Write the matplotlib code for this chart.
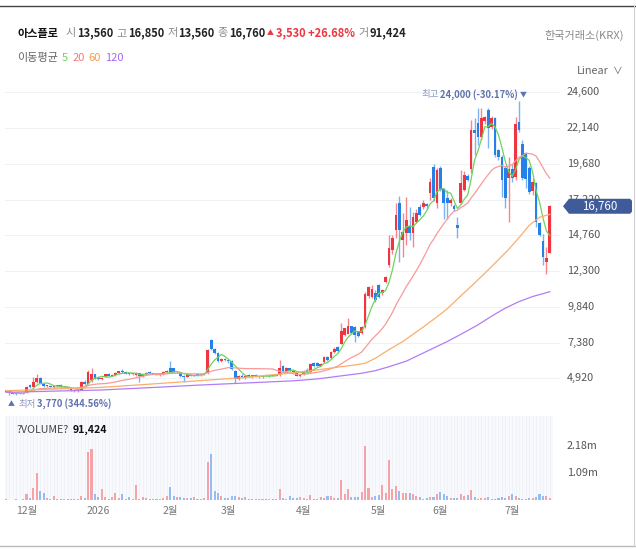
import matplotlib
matplotlib.use("Agg")
import matplotlib.pyplot as plt
import numpy as np
import pandas as pd
from matplotlib.patches import Polygon

plt.rcParams['font.family'] = ['Noto Sans CJK KR', 'DejaVu Sans']

# ---- data (daily candles, KRW) ----
opens = [4000, 4050, 3890, 3860, 3900, 3870, 3920, 4450, 4330, 4650,
         4950, 4560, 4380, 4420, 4330, 4380, 4470, 4300, 4320, 4200,
         4100, 4020, 4150, 4680, 4550, 4800, 5200, 4950, 4850, 5000,
         5200, 5100, 5150, 5300, 5450, 5350, 5250, 5200, 5150, 5280,
         5050, 5200, 5350, 5280, 5250, 5150, 5200, 5380, 5650, 5600,
         5350, 5350, 5100, 5000, 5150, 5100, 5180, 5150, 5200, 5300,
         7550, 6950, 6650, 6100, 6250, 6150, 6100, 5450, 4850, 5100,
         5000, 5100, 5050, 5120, 5050, 5000, 5100, 5080, 5120, 5100,
         5150, 5800, 5450, 5600, 5420, 5300, 5100, 5200, 5500, 5350,
         5950, 6000, 5800, 6050, 6400, 6300, 6700, 7100, 7300, 7900,
         8000, 8500, 8450, 8150, 8050, 8450, 10600, 10550, 10800, 11350,
         10800, 11560, 12720, 13770, 15140, 16980, 14460, 14950, 15400, 14950,
         15700, 16700, 16700, 16900, 17700, 19450, 17000, 19400, 17950, 17300,
         17000, 16800, 15450, 17000, 17900, 18850, 19300, 22000, 22500, 21500,
         22650, 23400, 22200, 22800, 20600, 20150, 19400, 18700, 19350, 18750,
         22550, 21050, 20400, 19400, 17800, 18350, 15600, 14400, 12900, 13560]
highs = [4100, 4060, 3950, 3900, 3920, 3930, 4380, 4560, 5000, 5230,
         5000, 4600, 4450, 4460, 4400, 4480, 4520, 4360, 4340, 4230,
         4150, 4180, 4720, 4800, 5500, 5640, 5250, 5050, 5000, 5250,
         5280, 5200, 5350, 5450, 5550, 5400, 5300, 5280, 5350, 5300,
         5250, 5350, 5420, 5320, 5300, 5250, 5420, 5500, 6130, 5650,
         5450, 5380, 5150, 5200, 5250, 5200, 5250, 5230, 5300, 6950,
         7650, 7000, 6700, 6300, 6350, 6250, 6150, 5500, 5150, 5200,
         5150, 5200, 5150, 5200, 5100, 5150, 5200, 5150, 5180, 5200,
         6150, 5850, 5700, 5650, 5500, 5350, 5250, 5500, 5600, 5950,
         6050, 6050, 5950, 6450, 6450, 6800, 7050, 7150, 8750, 8400,
         9080, 8550, 8500, 8200, 8550, 10850, 11300, 11350, 11000, 11400,
         11100, 11960, 14800, 14800, 16990, 17450, 16300, 17400, 16700, 16350,
         16570, 16900, 17200, 17000, 18700, 19700, 19400, 19500, 18000, 17900,
         17300, 16900, 16020, 19250, 19200, 19000, 22700, 22830, 23500, 23500,
         23000, 23500, 23000, 22900, 20700, 20300, 19500, 20150, 19700, 22900,
         24000, 21300, 20500, 19500, 18700, 18400, 15700, 14850, 13960, 16850]
lows = [3960, 3770, 3820, 3800, 3830, 3840, 3900, 4280, 4300, 4600,
        4500, 4320, 4300, 4300, 4280, 4340, 4280, 4260, 4200, 4080,
        3990, 4000, 4120, 4450, 4500, 4700, 4850, 4800, 4800, 4980,
        5050, 5050, 5100, 5250, 5300, 5200, 5150, 5150, 5100, 4700,
        5000, 5150, 5250, 5200, 5120, 5100, 5150, 5300, 5300, 5300,
        5300, 5000, 4700, 4980, 5080, 5050, 5100, 5100, 5150, 5250,
        6850, 6600, 6050, 6050, 6100, 6000, 5500, 4620, 4800, 4950,
        4900, 5000, 4950, 5000, 4950, 4950, 5050, 5000, 5050, 5050,
        5100, 5350, 5400, 5380, 5300, 5050, 5030, 5150, 5300, 5300,
        5700, 5750, 5750, 6000, 6100, 6250, 6650, 6750, 7250, 7850,
        7950, 8000, 7430, 7750, 8000, 8400, 10450, 10450, 10200, 10450,
        10650, 11450, 12580, 13500, 14580, 12900, 13270, 14100, 14460, 13960,
        15600, 16100, 16600, 16600, 17200, 17150, 16650, 17800, 15850, 15850,
        16800, 16450, 14560, 16900, 17800, 18500, 19050, 20300, 21000, 21300,
        22400, 20800, 22100, 20150, 19950, 17400, 16650, 15670, 18400, 18600,
        21900, 18600, 18050, 17600, 17500, 15300, 14700, 12730, 12110, 13560]
closes = [4080, 3880, 3850, 3840, 3860, 3900, 4330, 4330, 4700, 4950,
          4560, 4380, 4420, 4330, 4360, 4450, 4300, 4320, 4220, 4100,
          4020, 4150, 4650, 4500, 5350, 5250, 4900, 4850, 4950, 5200,
          5100, 5150, 5300, 5400, 5350, 5250, 5200, 5230, 5300, 5050,
          5200, 5300, 5280, 5250, 5150, 5200, 5380, 5450, 5380, 5350,
          5400, 5050, 5000, 5150, 5100, 5180, 5150, 5200, 5250, 6900,
          6950, 6650, 6100, 6250, 6150, 6100, 5550, 4850, 5100, 5000,
          5100, 5050, 5120, 5050, 5000, 5100, 5080, 5120, 5100, 5150,
          5650, 5450, 5600, 5420, 5350, 5100, 5200, 5450, 5350, 5900,
          5750, 5800, 5900, 6400, 6150, 6750, 6950, 6800, 8150, 8350,
          8500, 8050, 7900, 7800, 8450, 10750, 11200, 11100, 10300, 10550,
          11000, 11900, 13900, 14600, 16180, 15140, 14990, 15800, 14900, 16000,
          16300, 16180, 16980, 16750, 18400, 17350, 19250, 17900, 17000, 17000,
          17200, 16550, 15260, 18350, 18900, 18600, 22000, 21800, 21550, 22850,
          22900, 22150, 22850, 20300, 20150, 18550, 17350, 19350, 18700, 22450,
          22000, 18700, 18650, 17750, 18400, 15650, 14800, 13270, 13230, 16760]
volumes_m = [0.03, 0.02, 0.02, 0.03, 0.02, 0.03, 0.23, 0.09, 0.50, 1.10,
             0.35, 0.28, 0.10, 0.05, 0.16, 0.06, 0.04, 0.03, 0.03, 0.04,
             0.05, 0.06, 0.16, 0.08, 1.94, 2.05, 0.23, 0.11, 0.44, 0.12,
             0.05, 0.11, 0.30, 0.08, 0.23, 0.05, 0.12, 0.05, 0.61, 0.05,
             0.11, 0.09, 0.04, 0.04, 0.04, 0.05, 0.09, 0.16, 0.52, 0.15,
             0.13, 0.12, 0.08, 0.08, 0.07, 0.11, 0.05, 0.05, 0.09, 1.53,
             1.87, 0.36, 0.27, 0.16, 0.09, 0.08, 0.16, 0.17, 0.12, 0.08,
             0.11, 0.04, 0.03, 0.04, 0.05, 0.04, 0.05, 0.04, 0.03, 0.05,
             0.44, 0.07, 0.05, 0.15, 0.07, 0.07, 0.11, 0.07, 0.05, 0.19,
             0.05, 0.05, 0.11, 0.09, 0.15, 0.16, 0.08, 0.08, 0.82, 0.26,
             0.44, 0.12, 0.11, 0.12, 0.31, 2.19, 0.48, 0.11, 0.17, 0.19,
             0.59, 0.27, 1.60, 0.44, 0.58, 0.36, 0.27, 0.30, 0.27, 0.23,
             0.15, 0.11, 0.05, 0.08, 0.11, 0.12, 0.24, 0.32, 0.23, 0.15,
             0.09, 0.08, 0.08, 0.26, 0.16, 0.19, 0.40, 0.11, 0.05, 0.07,
             0.09, 0.12, 0.04, 0.05, 0.08, 0.11, 0.08, 0.17, 0.23, 0.16,
             0.08, 0.05, 0.05, 0.08, 0.08, 0.13, 0.26, 0.16, 0.16, 0.091424]

# 60 / 120 day averages read at sample candles (history before the window is not visible)
ma60_idx = [0, 14, 28, 42, 56, 70, 84, 91, 98, 102, 105, 108, 112, 116, 119, 122,
            126, 129, 133, 136, 140, 143, 147, 150, 153, 156, 159]
ma60_vals = [4070, 4180, 4300, 4520, 4750, 4980, 5300, 5500, 5720, 5840, 5960, 6300,
             6900, 7450, 7950, 8450, 9150, 9700, 10600, 11250, 12150, 12850, 13800,
             14600, 15450, 16000, 16200]
ma120_idx = [0, 14, 28, 42, 56, 70, 84, 91, 98, 104, 108, 112, 117, 121, 125, 129,
             133, 138, 142, 146, 150, 154, 159]
ma120_vals = [3960, 4040, 4120, 4280, 4450, 4600, 4750, 4880, 5090, 5270, 5450, 5720,
              6100, 6550, 7000, 7450, 7950, 8600, 9200, 9750, 10200, 10550, 10880]

price_ticks = [4920, 7380, 9840, 12300, 14760, 17220, 19680, 22140, 24600]
vol_ticks = [1.09, 2.18]
month_idx = [6, 27, 48, 65, 87, 109, 127, 148]
month_labels = ['12월', '2026', '2월', '3월', '4월', '5월', '6월', '7월']

last_price = 16760

RED, BLUE = '#ef3540', '#2580e8'
VRED, VBLUE = '#f6a3a7', '#94bef3'
MA_COLORS = {'5': '#6fd35f', '20': '#f79a9a', '60': '#fbae6a', '120': '#b27cf6'}
ANNO = '#5f72ad'

W, H = 636, 549
fig = plt.figure(figsize=(W / 100, H / 100), dpi=100)
fig.patch.set_facecolor('white')


def fx(px):
    return px / W


def fy(py):
    return 1 - py / H


# ---- price pane ----
ax = fig.add_axes([fx(5), fy(410), (560 - 5) / W, (410 - 80) / H])
n = len(closes)
idx = np.arange(n)
o = np.array(opens)
c = np.array(closes)
hi = np.array(highs)
lo = np.array(lows)
up = c >= o

for p in price_ticks:
    ax.axhline(p, color='#f0f1f4', lw=0.8, zorder=0)

ax.vlines(idx[up], lo[up], hi[up], color=RED, lw=1.0, alpha=0.6, zorder=2)
ax.vlines(idx[~up], lo[~up], hi[~up], color=BLUE, lw=1.0, alpha=0.6, zorder=2)
body_h = np.maximum(np.abs(c - o), 70)
ax.bar(idx, body_h, bottom=np.minimum(o, c), width=0.8,
       color=np.where(up, RED, BLUE), zorder=3, linewidth=0)

cs = pd.Series(closes)
ax.plot(idx, cs.rolling(5, min_periods=1).mean(), color=MA_COLORS['5'], lw=0.9, zorder=4)
ax.plot(idx, cs.rolling(20, min_periods=1).mean(), color=MA_COLORS['20'], lw=0.9, zorder=4)
ax.plot(ma60_idx, ma60_vals, color=MA_COLORS['60'], lw=0.9, zorder=4)
ax.plot(ma120_idx, ma120_vals, color=MA_COLORS['120'], lw=0.9, zorder=4)

ax.set_xlim((5 - 6) / 3.42, (560 - 6) / 3.42)
ax.set_ylim(24600 - (410 - 92.3) * 68.8, 24600 + (92.3 - 80) * 68.8)
ax.set_xticks([])
ax.set_yticks([])
for s in ax.spines.values():
    s.set_visible(False)

ytr = ax.get_yaxis_transform()
for p in price_ticks:
    ax.text((567 - 5) / 555, p, f'{p:,}', transform=ytr, ha='left', va='center',
            fontsize=7.8, color='#555555', clip_on=False)

# ---- volume pane ----
axv = fig.add_axes([fx(5), fy(500), (553 - 5) / W, (500 - 416) / H])
axv.set_facecolor('#f8f9fc')
axv.vlines(idx, 0, 10e6, color='#f0f2f7', lw=0.7, zorder=0)
vols = np.array(volumes_m) * 1e6
axv.bar(idx, vols, width=0.6, color=np.where(up, VRED, VBLUE), linewidth=0, zorder=2)
axv.set_xlim((5 - 6) / 3.42, (553 - 6) / 3.42)
axv.set_ylim(0, (500 - 416) / 27 * 1.09e6)
axv.set_yticks([])
axv.set_xticks(month_idx)
axv.set_xticklabels(month_labels, fontsize=7.5, color='#777777')
axv.tick_params(axis='x', length=0, pad=4)
for s in axv.spines.values():
    s.set_visible(False)
vtr = axv.get_yaxis_transform()
for v in vol_ticks:
    axv.text((567 - 5) / 548, v * 1e6, f'{v:.2f}m', transform=vtr, ha='left', va='center',
             fontsize=7.8, color='#555555', clip_on=False)

renderer = fig.canvas.get_renderer()


def put_run(x_px, y_px, parts):
    x = x_px
    for s, color, weight, size, gap in parts:
        t = fig.text(fx(x), fy(y_px), s, color=color, fontsize=size,
                     fontweight=weight, ha='left', va='center')
        bb = t.get_window_extent(renderer=renderer)
        x += bb.width + gap
    return x


G, D = '#8a8a8a', '#222222'
put_run(17, 33, [('아스플로', '#111111', 'bold', 8.0, 8),
                 ('시', G, 'normal', 8.0, 1), ('13,560', D, 'bold', 8.0, 3),
                 ('고', G, 'normal', 8.0, 1), ('16,850', D, 'bold', 8.0, 3),
                 ('저', G, 'normal', 8.0, 1), ('13,560', D, 'bold', 8.0, 3),
                 ('종', G, 'normal', 8.0, 1), ('16,760', D, 'bold', 8.0, 2),
                 ('▲', RED, 'normal', 5.0, 2), ('3,530 +26.68%', RED, 'bold', 8.0, 3),
                 ('거', G, 'normal', 8.0, 1), ('91,424', D, 'bold', 8.0, 0)])
fig.text(fx(624), fy(35), '한국거래소(KRX)', ha='right', va='center', fontsize=8.0, color='#8a8a8a')
put_run(17, 58, [('이동평균', '#666666', 'normal', 8.0, 4),
                 ('5', MA_COLORS['5'], 'normal', 8.0, 4),
                 ('20', '#f47a7a', 'normal', 8.0, 4),
                 ('60', '#f99a4a', 'normal', 8.0, 4),
                 ('120', '#a66af3', 'normal', 8.0, 0)])
fig.text(fx(577), fy(71), 'Linear', ha='left', va='center', fontsize=7.8, color='#666666')
fig.text(fx(613), fy(71), '∨', ha='left', va='center', fontsize=7, color='#666666')

# high / low annotations
put_run(421, 95, [('최고', '#8a97c2', 'normal', 6.8, 2),
                  ('24,000 (-30.17%)', ANNO, 'bold', 6.8, 2),
                  ('▼', ANNO, 'normal', 5.0, 0)])
put_run(8, 404, [('▲', ANNO, 'normal', 5.0, 3),
                 ('최저', '#8a97c2', 'normal', 6.8, 2),
                 ('3,770 (344.56%)', ANNO, 'bold', 6.8, 0)])
put_run(17, 430, [('?VOLUME?', '#444444', 'normal', 7.6, 3),
                  ('91,424', '#111111', 'bold', 7.6, 0)])

# last price tag
y_last = 92.3 + (24600 - last_price) / 68.8
tag = [(563, y_last), (569, y_last - 7.5), (630, y_last - 7.5), (632, y_last - 5.5),
       (632, y_last + 5.5), (630, y_last + 7.5), (569, y_last + 7.5)]
fig.patches.append(Polygon([(fx(a), fy(b)) for a, b in tag], closed=True,
                           transform=fig.transFigure, facecolor='#3f5b9a',
                           edgecolor='none', zorder=10))
fig.text(fx(600), fy(y_last), f'{last_price:,}', ha='center', va='center',
         fontsize=8.3, color='white', zorder=11)

# frame lines
fig.add_artist(plt.Line2D([0, 1], [fy(6), fy(6)], transform=fig.transFigure, color='#444444', lw=1))
fig.add_artist(plt.Line2D([0, 1], [fy(546), fy(546)], transform=fig.transFigure, color='#bbbbbb', lw=1))
fig.add_artist(plt.Line2D([fx(634), fx(634)], [fy(6), fy(546)], transform=fig.transFigure, color='#d0d0d0', lw=0.8))

fig.savefig('out.png', dpi=100)
